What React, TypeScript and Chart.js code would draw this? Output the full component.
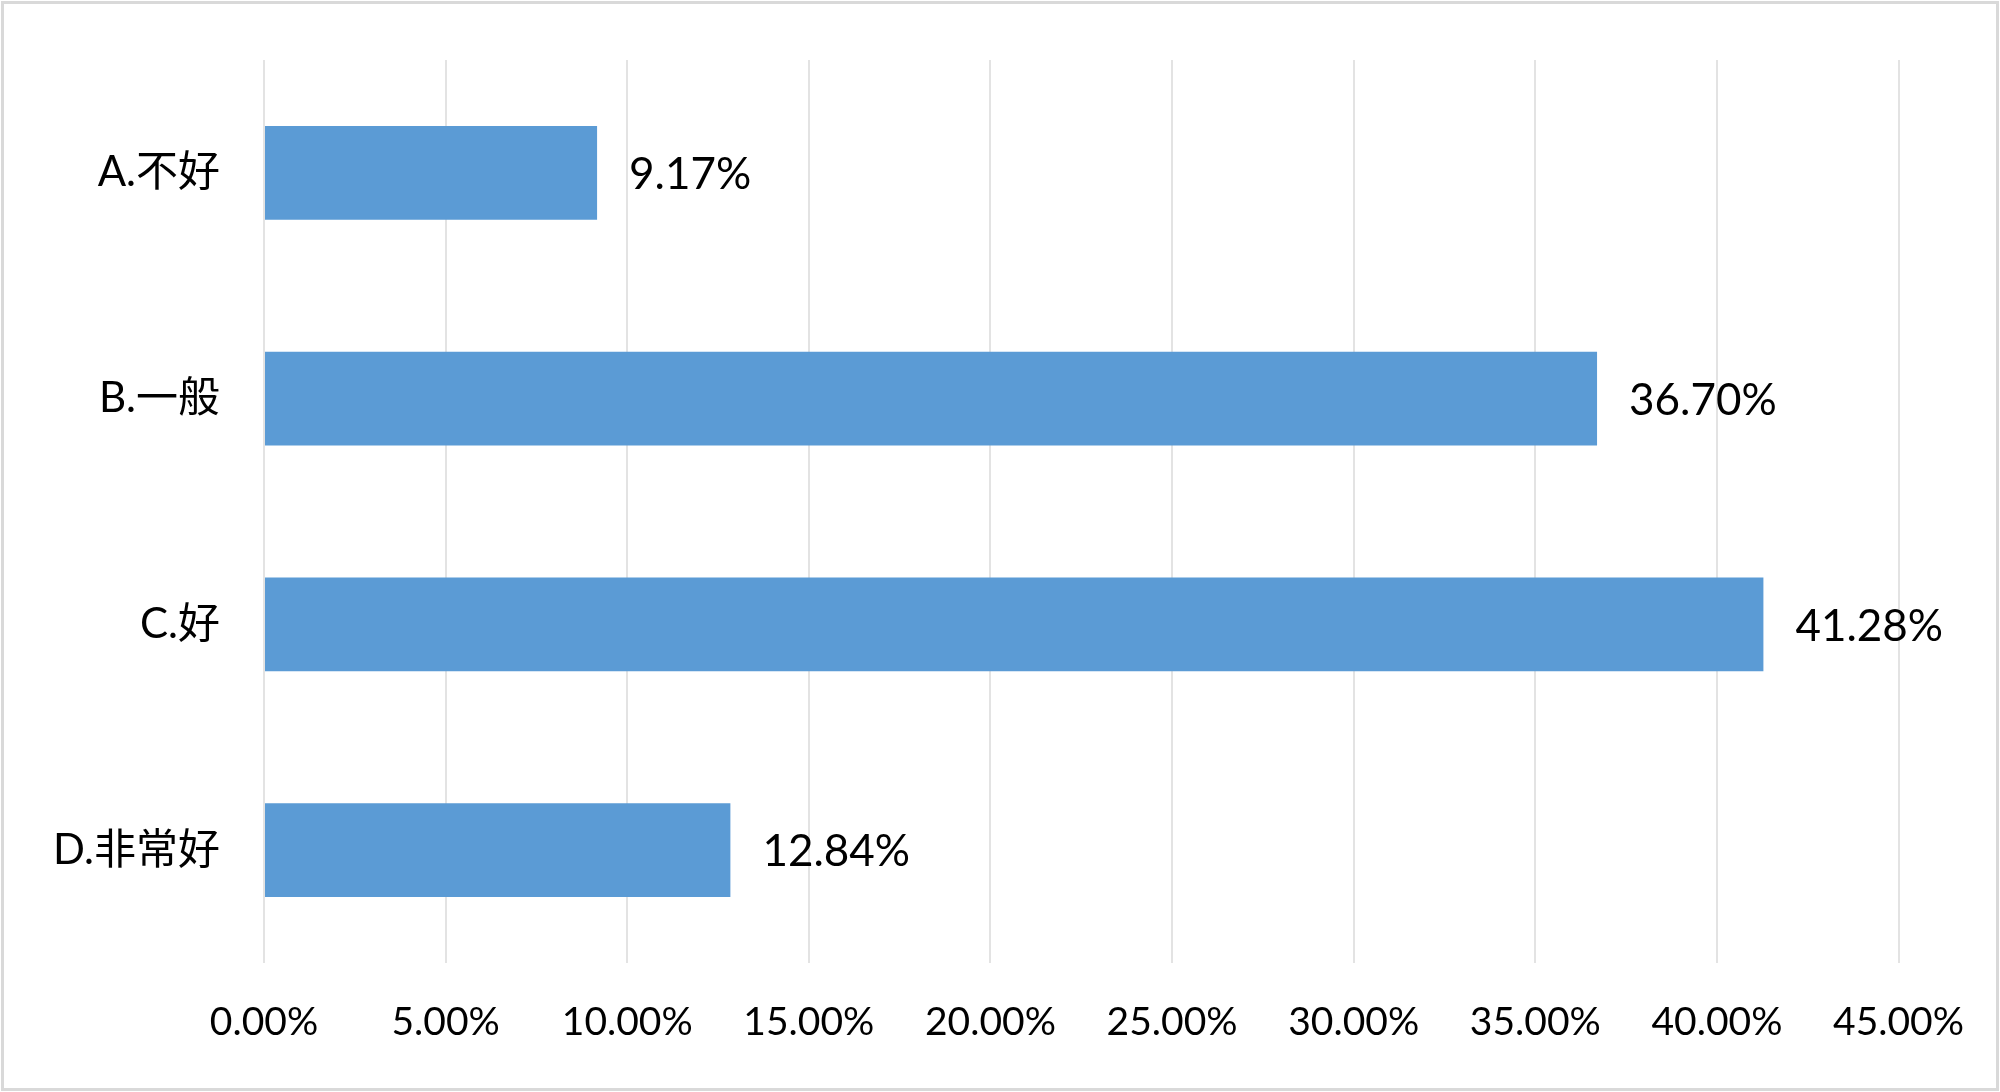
import React, { useEffect, useRef } from "react";
import { Chart, registerables } from "chart.js";

Chart.register(...registerables);

const categories = ["A.不好", "B.一般", "C.好", "D.非常好"];
const values = [9.17, 36.7, 41.28, 12.84];
const xTicks = [0, 5, 10, 15, 20, 25, 30, 35, 40, 45];

const FONT = "Lato, 'Noto Sans CJK SC', sans-serif";

const borderPlugin = {
  id: "outerBorder",
  beforeDraw(chart: any) {
    const ctx = chart.ctx;
    ctx.save();
    ctx.fillStyle = "#ffffff";
    ctx.fillRect(0, 0, chart.width, chart.height);
    ctx.strokeStyle = "#d9d9d9";
    ctx.lineWidth = 3;
    ctx.strokeRect(2.5, 2.5, chart.width - 5, chart.height - 5);
    ctx.restore();
  },
};

const labelPlugin = {
  id: "barLabels",
  afterDatasetsDraw(chart: any) {
    const ctx = chart.ctx;
    const meta = chart.getDatasetMeta(0);
    ctx.save();
    ctx.font = `44px ${FONT}`;
    ctx.fillStyle = "#000000";
    ctx.textAlign = "left";
    ctx.textBaseline = "middle";
    meta.data.forEach((bar: any, i: number) => {
      const v = chart.data.datasets[0].data[i] as number;
      ctx.fillText(v.toFixed(2) + "%", bar.x + 32, bar.y + 2);
    });
    ctx.restore();
  },
};

export default function App() {
  const ref = useRef<HTMLCanvasElement>(null);

  useEffect(() => {
    if (!ref.current) return;
    const chart = new Chart(ref.current, {
      type: "bar",
      data: {
        labels: categories,
        datasets: [
          {
            data: values,
            backgroundColor: "#5b9bd5",
            borderWidth: 0,
            barPercentage: 0.416,
            categoryPercentage: 1,
          },
        ],
      },
      options: {
        indexAxis: "y",
        animation: false,
        responsive: false,
        maintainAspectRatio: false,
        layout: { padding: { left: 0, right: 100, top: 60, bottom: 0 } },
        plugins: {
          legend: { display: false },
          tooltip: { enabled: false },
        },
        scales: {
          x: {
            min: 0,
            max: 45,
            afterBuildTicks(scale: any) {
              scale.ticks = xTicks.map((v) => ({ value: v }));
            },
            afterFit(scale: any) {
              scale.height = 129;
            },
            grid: { color: "#e3e3e3", lineWidth: 2, drawTicks: false },
            border: { display: false },
            ticks: {
              padding: 36,
              color: "#000000",
              font: { family: FONT, size: 39 },
              callback: (v: any) => Number(v).toFixed(2) + "%",
              maxRotation: 0,
              autoSkip: false,
            },
          },
          y: {
            afterFit(scale: any) {
              scale.width = 264;
              scale.paddingTop = 0;
              scale.paddingBottom = 0;
            },
            grid: { display: false, drawTicks: false },
            border: { display: false },
            ticks: {
              padding: 44,
              color: "#000000",
              font: { family: FONT, size: 42 },
            },
          },
        },
      },
      plugins: [borderPlugin, labelPlugin],
    });
    return () => chart.destroy();
  }, []);

  return (
    <div style={{ position: "fixed", left: 0, top: 0, width: 2000, height: 1092 }}>
      <canvas ref={ref} width={2000} height={1092} style={{ width: 2000, height: 1092, display: "block" }} />
    </div>
  );
}
